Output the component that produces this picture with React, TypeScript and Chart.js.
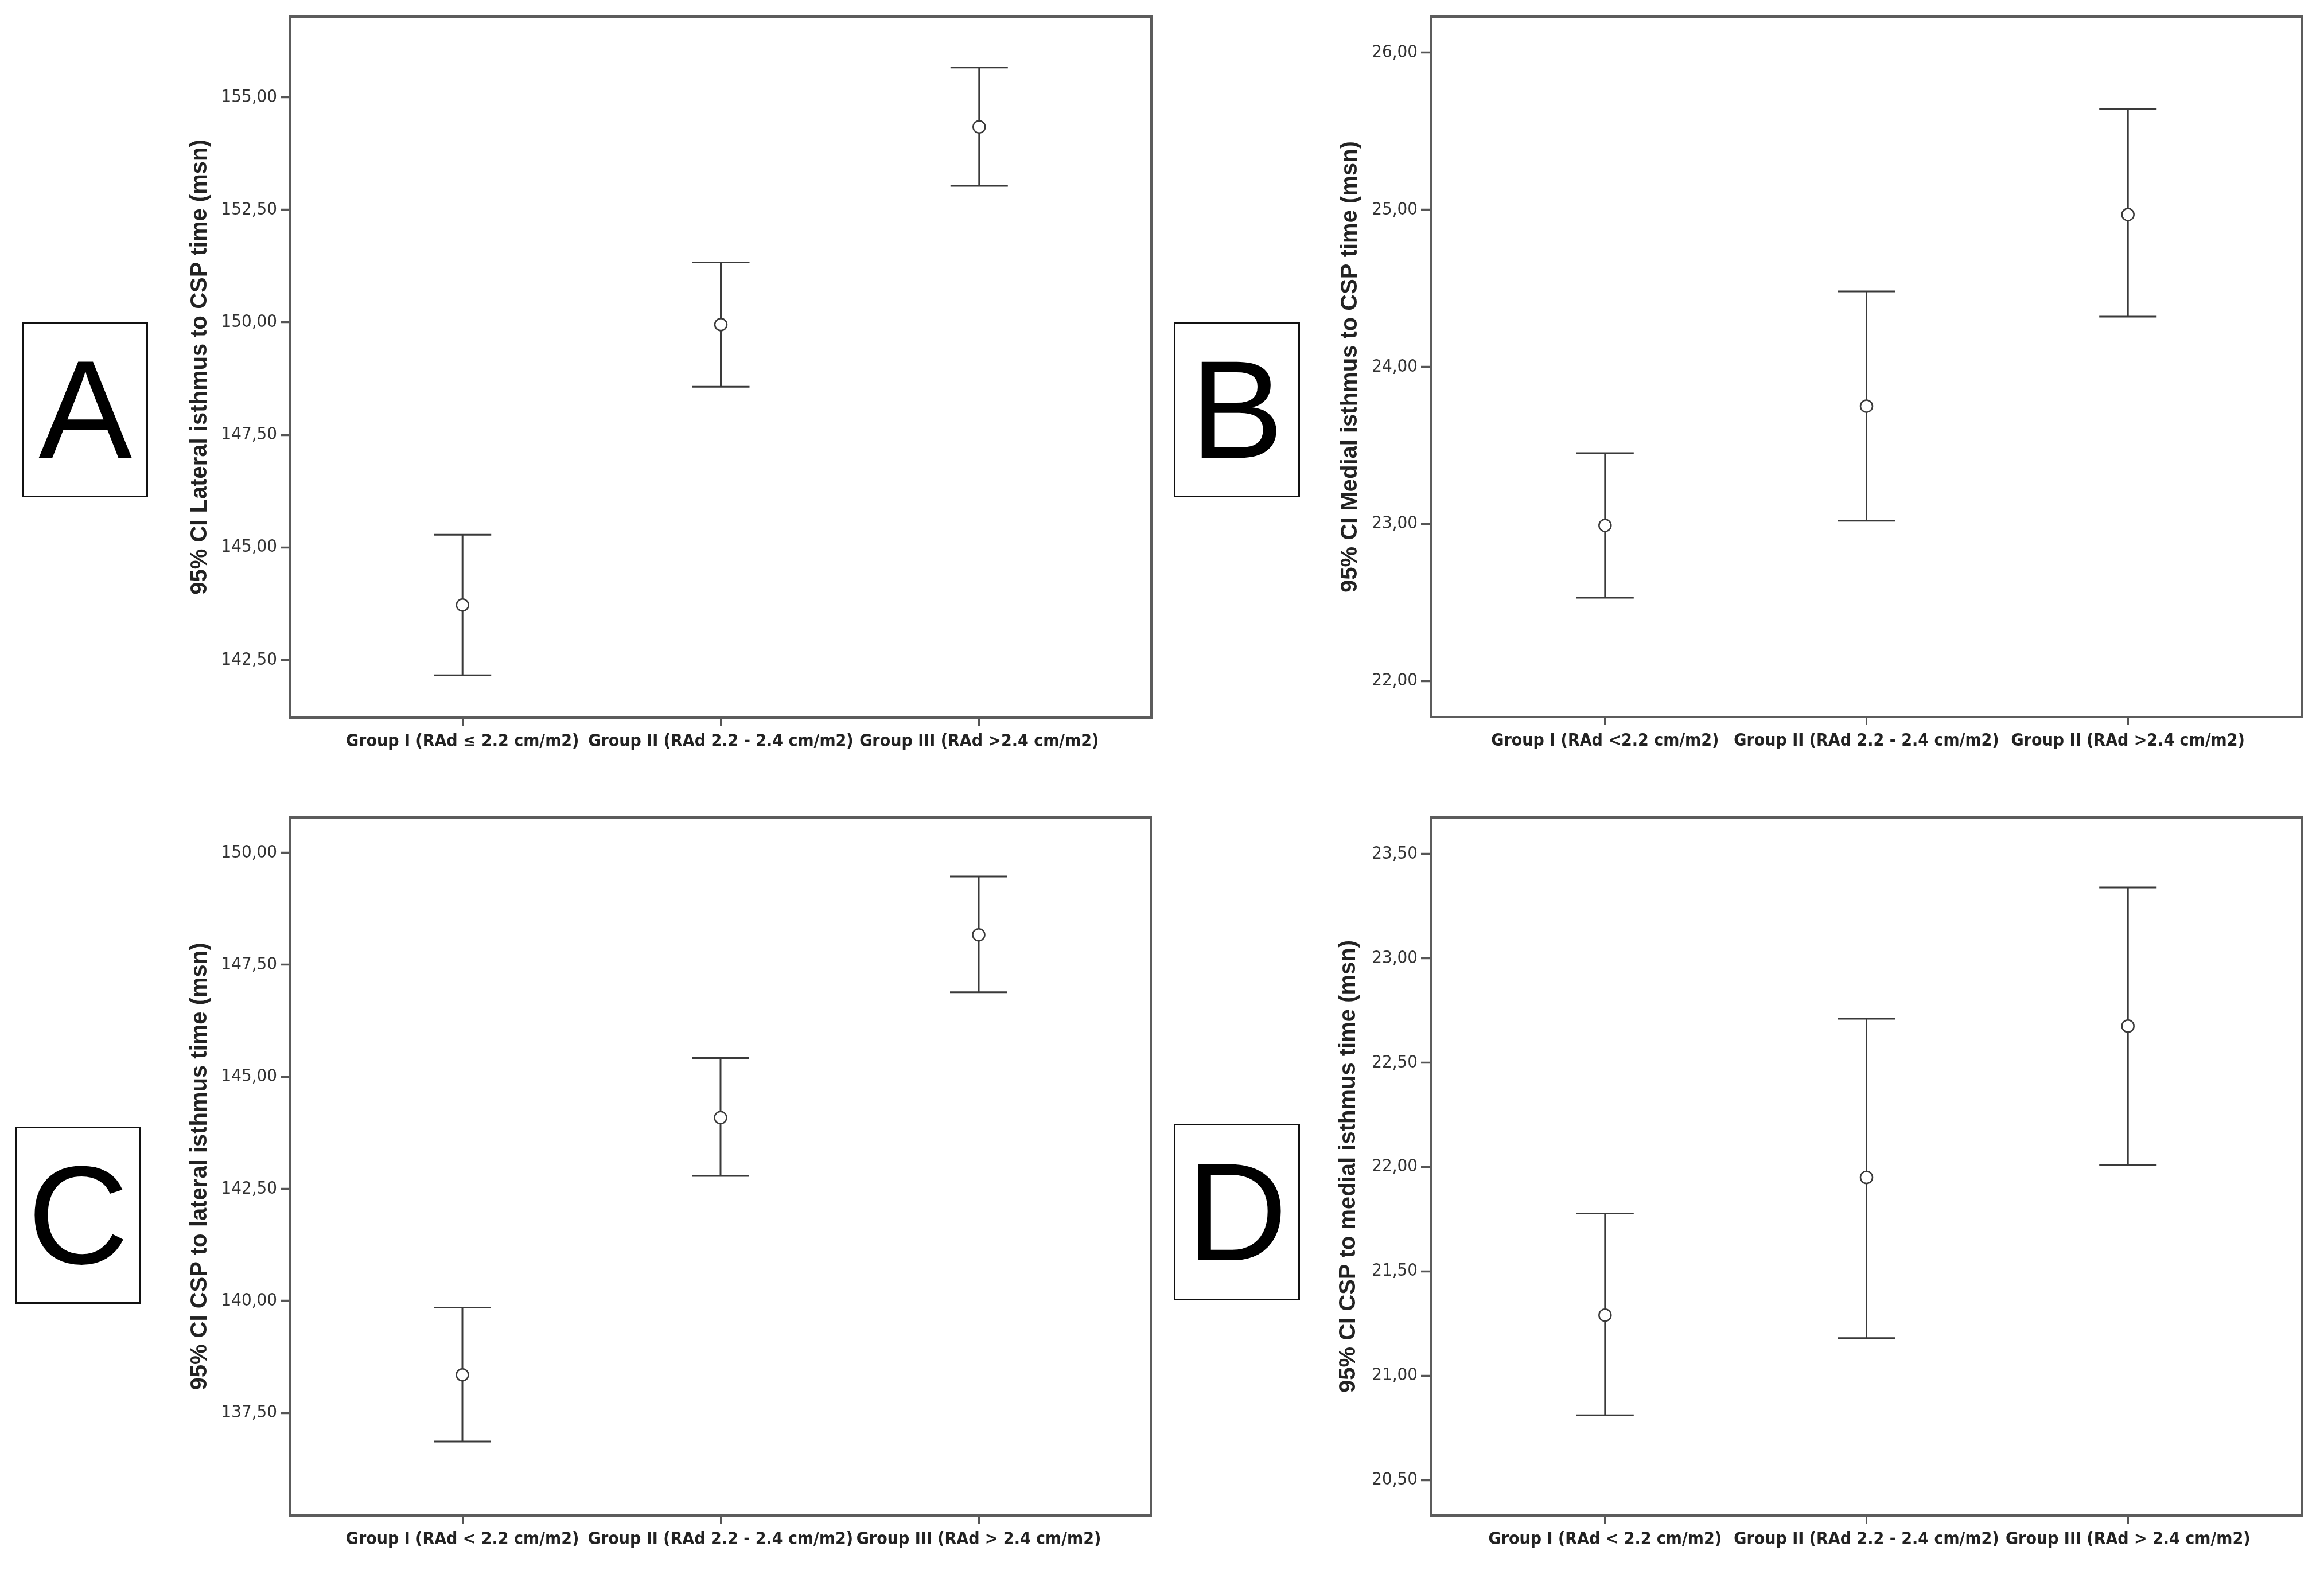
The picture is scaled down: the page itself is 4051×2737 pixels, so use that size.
import React, { useEffect, useRef } from 'react';
import { Chart, registerables } from 'chart.js';

Chart.register(...registerables);

// x positions of the three groups
const groupPositions = [1, 2, 3];

// Panel A - lateral isthmus to CSP
const labelsA = ['Group I (RAd \u2264 2.2 cm/m2)', 'Group II (RAd 2.2 - 2.4 cm/m2)', 'Group III (RAd >2.4 cm/m2)'];
const meanA = [143.72, 149.95, 154.34];
const lowerA = [142.16, 148.57, 153.03];
const upperA = [145.28, 151.33, 155.66];
const ticksA = [142.5, 145, 147.5, 150, 152.5, 155];

// Panel B - medial isthmus to CSP
const labelsB = ['Group I (RAd <2.2 cm/m2)', 'Group II (RAd 2.2 - 2.4 cm/m2)', 'Group II (RAd >2.4 cm/m2)'];
const meanB = [22.99, 23.75, 24.97];
const lowerB = [22.53, 23.02, 24.32];
const upperB = [23.45, 24.48, 25.64];
const ticksB = [22, 23, 24, 25, 26];

// Panel C - CSP to lateral isthmus
const labelsC = ['Group I (RAd < 2.2 cm/m2)', 'Group II (RAd 2.2 - 2.4 cm/m2)', 'Group III (RAd > 2.4 cm/m2)'];
const meanC = [138.35, 144.09, 148.17];
const lowerC = [136.86, 142.79, 146.89];
const upperC = [139.85, 145.42, 149.47];
const ticksC = [137.5, 140, 142.5, 145, 147.5, 150];

// Panel D - CSP to medial isthmus
const labelsD = ['Group I (RAd < 2.2 cm/m2)', 'Group II (RAd 2.2 - 2.4 cm/m2)', 'Group III (RAd > 2.4 cm/m2)'];
const meanD = [21.29, 21.95, 22.675];
const lowerD = [20.81, 21.18, 22.01];
const upperD = [21.777, 22.71, 23.34];
const ticksD = [20.5, 21, 21.5, 22, 22.5, 23, 23.5];

const NARROW = "'Liberation Sans Narrow', 'DejaVu Sans Condensed', 'Arial Narrow', sans-serif";
const SANS = "'Liberation Sans', Arial, sans-serif";

interface Area { left: number; top: number; right: number; bottom: number; }

interface PanelProps {
  letter: string;
  title: string;
  labels: string[];
  mean: number[];
  lower: number[];
  upper: number[];
  ticks: number[];
  min: number;
  max: number;
  left: number;
  top: number;
  width: number;
  height: number;
  area: Area;
  titleX: number;
  letterBox: { left: number; top: number; width: number; height: number };
}

const ErrorBarPanel: React.FC<PanelProps> = (p) => {
  const canvasRef = useRef<HTMLCanvasElement>(null);

  useEffect(() => {
    if (!canvasRef.current) return;
    const ctx = canvasRef.current.getContext('2d');
    if (!ctx) return;

    // whiskers + caps for the 95% CI, drawn under the mean markers
    const errorBars = {
      id: 'errorBars',
      beforeDatasetsDraw(chart: Chart) {
        const { ctx, scales: { x, y } } = chart;
        ctx.save();
        ctx.strokeStyle = '#3a3a3a';
        ctx.lineWidth = 3;
        p.lower.forEach((lo, i) => {
          const px = x.getPixelForValue(groupPositions[i]);
          const yLo = y.getPixelForValue(lo);
          const yHi = y.getPixelForValue(p.upper[i]);
          ctx.beginPath();
          ctx.moveTo(px, yLo);
          ctx.lineTo(px, yHi);
          ctx.moveTo(px - 50, yLo);
          ctx.lineTo(px + 50, yLo);
          ctx.moveTo(px - 50, yHi);
          ctx.lineTo(px + 50, yHi);
          ctx.stroke();
        });
        ctx.restore();
      },
    };

    const frame = {
      id: 'frame',
      afterDraw(chart: Chart) {
        const { ctx, chartArea: a } = chart;
        ctx.save();
        ctx.strokeStyle = '#5c5c5c';
        ctx.lineWidth = 4;
        ctx.strokeRect(a.left, a.top, a.right - a.left, a.bottom - a.top);
        ctx.restore();
      },
    };

    const chart = new Chart(ctx, {
      type: 'scatter',
      data: {
        datasets: [
          {
            label: 'Mean',
            data: p.mean.map((m, i) => ({ x: groupPositions[i], y: m })),
            pointRadius: 10.5,
            pointBorderWidth: 2.5,
            pointBorderColor: '#3a3a3a',
            pointBackgroundColor: '#ffffff',
            showLine: false,
          },
        ],
      },
      options: {
        responsive: false,
        animation: false,
        layout: {
          padding: { left: 0, top: p.area.top, right: p.width - p.area.right, bottom: 0 },
        },
        plugins: {
          legend: { display: false },
          tooltip: { enabled: false },
        },
        scales: {
          x: {
            type: 'linear',
            min: 1 / 3,
            max: 11 / 3,
            bounds: 'data',
            afterBuildTicks: (axis: any) => {
              axis.ticks = groupPositions.map((v) => ({ value: v }));
            },
            afterFit: (axis: any) => {
              axis.height = p.height - p.area.bottom;
            },
            ticks: {
              autoSkip: false,
              maxRotation: 0,
              padding: 10,
              color: '#222',
              font: { family: NARROW, size: 30, weight: 'bold' },
              callback: (v: any) => p.labels[Math.round(Number(v)) - 1] ?? '',
            },
            grid: {
              display: true,
              drawOnChartArea: false,
              drawTicks: true,
              tickLength: 14,
              tickWidth: 3,
              tickColor: '#555',
            },
            border: { display: false },
          },
          y: {
            type: 'linear',
            min: p.min,
            max: p.max,
            bounds: 'data',
            afterBuildTicks: (axis: any) => {
              axis.ticks = p.ticks.map((v) => ({ value: v }));
            },
            afterFit: (axis: any) => {
              axis.width = p.area.left;
            },
            ticks: {
              padding: 6,
              color: '#333',
              font: { family: NARROW, size: 31 },
              callback: (v: any) => Number(v).toFixed(2).replace('.', ','),
            },
            grid: {
              display: true,
              drawOnChartArea: false,
              drawTicks: true,
              tickLength: 17,
              tickWidth: 3.5,
              tickColor: '#555',
            },
            border: { display: false },
            title: {
              display: true,
              text: p.title,
              color: '#222',
              font: { family: SANS, size: 40, weight: 'bold' },
              padding: { top: p.titleX - 24, bottom: 0 },
            },
          },
        },
      },
      plugins: [errorBars, frame],
    });

    return () => {
      chart.destroy();
    };
  }, [p]);

  return (
    <>
      <div style={{ position: 'absolute', left: p.left, top: p.top, width: p.width, height: p.height }}>
        <canvas ref={canvasRef} width={p.width} height={p.height} style={{ width: p.width, height: p.height }} />
      </div>
      <div
        style={{
          position: 'absolute',
          left: p.letterBox.left,
          top: p.letterBox.top,
          width: p.letterBox.width,
          height: p.letterBox.height,
          boxSizing: 'border-box',
          border: '3px solid #111',
          background: '#fff',
          display: 'flex',
          alignItems: 'center',
          justifyContent: 'center',
          fontFamily: SANS,
          fontSize: 244,
          lineHeight: 1,
          color: '#000',
        }}
      >
        {p.letter}
      </div>
    </>
  );
};

const panelA: PanelProps = {
  letter: 'A', title: '95% CI Lateral isthmus to CSP time (msn)',
  labels: labelsA, mean: meanA, lower: lowerA, upper: upperA, ticks: ticksA, min: 141.22, max: 156.79,
  left: 0, top: 0, width: 2025, height: 1368,
  area: { left: 506, top: 29, right: 2007, bottom: 1251 }, titleX: 349,
  letterBox: { left: 39, top: 561, width: 219, height: 306 },
};

const panelB: PanelProps = {
  letter: 'B', title: '95% CI Medial isthmus to CSP time (msn)',
  labels: labelsB, mean: meanB, lower: lowerB, upper: upperB, ticks: ticksB, min: 21.77, max: 26.23,
  left: 2025, top: 0, width: 2026, height: 1368,
  area: { left: 469, top: 29, right: 1988, bottom: 1250 }, titleX: 329,
  letterBox: { left: 2046, top: 561, width: 220, height: 306 },
};

const panelC: PanelProps = {
  letter: 'C', title: '95% CI CSP to lateral isthmus time (msn)',
  labels: labelsC, mean: meanC, lower: lowerC, upper: upperC, ticks: ticksC, min: 135.21, max: 150.79,
  left: 0, top: 1368, width: 2025, height: 1369,
  area: { left: 506, top: 57, right: 2006, bottom: 1274 }, titleX: 349,
  letterBox: { left: 26, top: 1964, width: 220, height: 309 },
};

const panelD: PanelProps = {
  letter: 'D', title: '95% CI CSP to medial isthmus time (msn)',
  labels: labelsD, mean: meanD, lower: lowerD, upper: upperD, ticks: ticksD, min: 20.33, max: 23.675,
  left: 2025, top: 1368, width: 2026, height: 1369,
  area: { left: 469, top: 57, right: 1988, bottom: 1274 }, titleX: 326,
  letterBox: { left: 2046, top: 1959, width: 220, height: 308 },
};

export default function App() {
  return (
    <div style={{ position: 'absolute', left: 0, top: 0, width: 4051, height: 2737, background: '#fff', overflow: 'hidden' }}>
      <ErrorBarPanel {...panelA} />
      <ErrorBarPanel {...panelB} />
      <ErrorBarPanel {...panelC} />
      <ErrorBarPanel {...panelD} />
    </div>
  );
}
